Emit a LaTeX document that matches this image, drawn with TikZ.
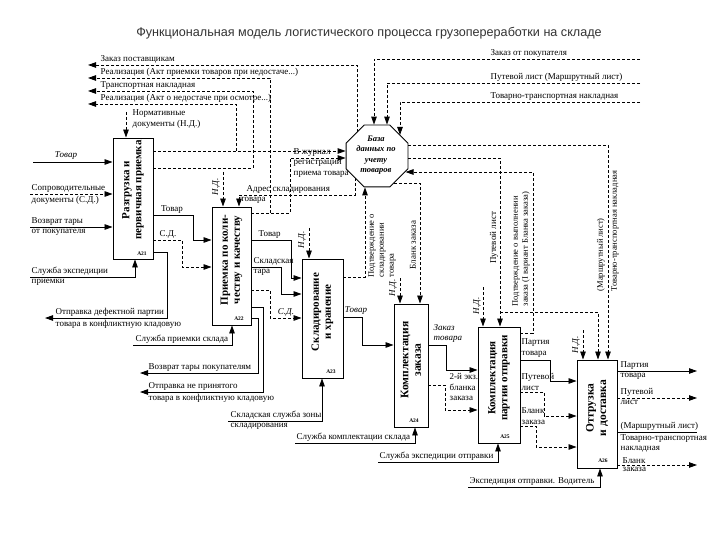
\documentclass[tikz,border=0pt]{standalone}
\usepackage{fontspec}
\setmainfont{Liberation Serif}
\newfontfamily\titlefont{Liberation Sans}
\usetikzlibrary{arrows.meta,shapes.geometric,calc}
\begin{document}
\begin{tikzpicture}[x=1pt,y=-1pt,
  box/.style={draw,line width=0.9pt,inner sep=0pt},
  blab/.style={rotate=90,font=\fontsize{11}{12}\selectfont\bfseries,align=center,inner sep=0pt},
  num/.style={font=\fontsize{5.5}{6}\selectfont\bfseries,inner sep=0pt},
  lab/.style={font=\fontsize{9}{10.5}\selectfont,align=left,inner sep=0.5pt},
  slab/.style={font=\fontsize{8.5}{10}\selectfont,align=left,inner sep=0.5pt},
  ilab/.style={font=\fontsize{9}{10.5}\selectfont\itshape,align=left,inner sep=0.5pt},
  ln/.style={line width=0.85pt},
  dsh/.style={line width=0.85pt,dash pattern=on 3pt off 2pt},
  arr/.style={-{Triangle[length=8pt,width=5.5pt]}},
]
\fill[white] (0,0) rectangle (720,540);
\useasboundingbox (0,0) rectangle (720,540);

\node[font=\titlefont\fontsize{12.6}{14}\selectfont,text=black!80] (title) at (369,33) {Функциональная модель логистического процесса грузопереработки на складе};

% ---------- boxes ----------
\node[box,minimum width=40,minimum height=121] (A21) at (133,198.5) {};
\node[box,minimum width=39,minimum height=118] (A22) at (231.5,266) {};
\node[box,minimum width=41,minimum height=119] (A23) at (322.5,318.5) {};
\node[box,minimum width=34,minimum height=123] (A24) at (411,365.5) {};
\node[box,minimum width=42,minimum height=116] (A25) at (499,385) {};
\node[box,minimum width=40,minimum height=108] (A26) at (597,414) {};
\node[draw,line width=0.9pt,regular polygon,regular polygon sides=8,minimum size=67,inner sep=0pt] (db) at (377,156) {};

\node[blab] (A21t) at (133,190) {Разгрузка и\\первичная приемка};
\node[blab] (A22t) at (231.5,260) {Приемка по коли-\\честву и качеству};
\node[blab] (A23t) at (322.5,312) {Складирование\\и хранение};
\node[blab,font=\fontsize{11.5}{12.5}\selectfont\bfseries] (A24t) at (411,360) {Комплектация\\заказа};
\node[blab] (A25t) at (499,378) {Комплектация\\партии отправки};
\node[blab,font=\fontsize{11.5}{12.5}\selectfont\bfseries] (A26t) at (597,408) {Отгрузка\\и доставка};
\node[font=\fontsize{8.5}{10.5}\selectfont\bfseries\itshape,align=center,inner sep=0pt] (dbt) at (376,155) {База\\данных по\\учету\\товаров};

\node[num] (n21) at (142,254) {A21};
\node[num] (n22) at (239,319) {A22};
\node[num] (n23) at (331,372) {A23};
\node[num] (n24) at (414,421) {A24};
\node[num] (n25) at (505,437) {A25};
\node[num] (n26) at (603,461) {A26};

% ---------- top left outputs ----------
\coordinate (L1) at (88,65);
\coordinate (L2) at (88,78);
\coordinate (L3) at (88,91);
\coordinate (L4) at (88,104);
\node[lab,anchor=south west] (tl1) at (100,64) {Заказ поставщикам};
\node[lab,anchor=south west] (tl2) at (100,77) {Реализация (Акт приемки товаров при недостаче...)};
\node[lab,anchor=south west] (tl3) at (100,90) {Транспортная накладная};
\node[lab,anchor=south west] (tl4) at (100,103) {Реализация (Акт о недостаче при осмотре...)};
\draw[dsh,arr] ($(db.center)+(-20,-23.7)$) -- (357,65) -- (L1);

% ---------- top right inputs ----------
\coordinate (R1) at (640,59);
\coordinate (R2) at (640,83);
\coordinate (R3) at (640,102);
\node[lab,anchor=south west] (tr1) at (490,58) {Заказ от покупателя};
\node[lab,anchor=south west] (tr2) at (490,82) {Путевой лист (Маршрутный лист)};
\node[lab,anchor=south west] (tr3) at (490,101) {Товарно-транспортная накладная};
\draw[dsh,arr] (R1) -- (374,59) -- (db.north -| 374,0);
\draw[dsh,arr] (R2) -- (387,83) -- (db.north -| 387,0);
\draw[dsh,arr] (R3) -- (400,102) -- ($(db.center)+(23,-21)$);

% ---------- A21 ----------
\coordinate (i1) at (33,162);
\coordinate (i2) at (30,194);
\coordinate (i3) at (30,227);
\node[ilab,anchor=south] (ti1) at (66,160) {Товар};
\draw[ln,arr] (i1) -- (i1 -| A21.west);
\node[lab,anchor=south west] (ti2a) at (31,193) {Сопроводительные};
\node[lab,anchor=north west] (ti2b) at (31,195.5) {документы (С.Д.)};
\draw[dsh,arr] (i2) -- (i2 -| A21.west);
\node[lab,anchor=south west] (ti3a) at (31,226) {Возврат тары};
\node[lab,anchor=north west] (ti3b) at (31,228.5) {от покупателя};
\draw[ln,arr] (i3) -- (i3 -| A21.west);

\coordinate (nd1) at (126,112);
\node[lab,anchor=west] (tnd1) at (132,119) {Нормативные\\документы (Н.Д.)};
\draw[dsh,arr] (nd1) -- (nd1 |- A21.north);

\coordinate (m1) at (30,277);
\node[lab,anchor=south west] (tm1a) at (31,276) {Служба экспедиции};
\node[lab,anchor=north west] (tm1b) at (31,278.5) {приемки};
\draw[ln,arr] (m1) -- (135,277) -- (135,0 |- A21.south);

\coordinate (o1) at (45,318);
\node[lab,anchor=south west] (to1a) at (55,317) {Отправка дефектной партии};
\node[lab,anchor=north west] (to1b) at (55,319.5) {товара в конфликтную кладовую};
\draw[ln,arr] (A21.east |- 0,252) -- (167,252) -- (167,318) -- (o1);

\node[lab,anchor=south] (tA21t) at (172,214) {Товар};
\draw[ln,arr] (A21.east |- 0,215) -- (193,215) -- (193,240) -- (A22.west |- 0,240);
\node[lab,anchor=south] (tA21s) at (168,239) {С.Д.};
\draw[dsh,arr] (A21.east |- 0,240) -- (182,240) -- (182,267) -- (A22.west |- 0,267);

\draw[dsh,arr] (A21.east |- 0,151) -- (db.west |- 0,151);
\draw[dsh,arr] (236,151) -- (236,104) -- (L4);
\draw[dsh,arr] (A21.east |- 0,168) -- (253,168) -- (253,91) -- (L3);

% ---------- A22 ----------
\coordinate (nd2) at (223,172);
\node[ilab,rotate=90] (tnd2) at (216,187) {Н.Д.};
\draw[dsh,arr] (nd2) -- (nd2 |- A22.north);

\node[lab,anchor=south west] (tadr1) at (246,194) {Адрес складирования};
\node[lab,anchor=north west] (tadr2) at (240,196.5) {товара};
\draw[dsh,arr] ($(db.center)+(-22,22)$) -- (355,195) -- (239,195) -- (239,0 |- A22.north);

\node[lab,anchor=south west] (tjr1) at (293,157) {В журнал};
\node[lab,anchor=north west] (tjr2) at (293,160) {регистрации\\приема товара};
\draw[dsh,arr] (A22.east |- 0,213) -- (290,213) -- (290,158) -- (db.west |- 0,158);
\draw[dsh,arr] (270,213) -- (270,78) -- (L2);

\node[lab,anchor=south west] (tA22t) at (258,239) {Товар};
\draw[ln,arr] (A22.east |- 0,240) -- (291,240) -- (291,278) -- (A23.west |- 0,278);
\node[lab,anchor=south west] (tA22k1) at (253,266) {Складская};
\node[lab,anchor=north west] (tA22k2) at (253,268.5) {тара};
\draw[ln,arr] (A22.east |- 0,267) -- (281,267) -- (281,294) -- (A23.west |- 0,294);
\node[ilab,anchor=south] (tA22s) at (286,317) {С.Д.};
\draw[dsh,arr] (A22.east |- 0,290) -- (270,290) -- (270,318) -- (A23.west |- 0,318);

\coordinate (o2) at (140,373);
\coordinate (o3) at (140,392);
\node[lab,anchor=south west] (to2) at (148,372) {Возврат тары покупателям};
\draw[ln,arr] (A22.east |- 0,318) -- (258,318) -- (258,373) -- (o2);
\node[lab,anchor=south west] (to3a) at (148,391) {Отправка не принятого};
\node[lab,anchor=north west] (to3b) at (148,393.5) {товара в конфликтную кладовую};
\draw[ln,arr] (A22.east |- 0,307) -- (263,307) -- (263,392) -- (o3);

\coordinate (m2) at (133,345);
\node[lab,anchor=south west] (tm2) at (135,344) {Служба приемки склада};
\draw[ln,arr] (m2) -- (232,345) -- (232,0 |- A22.south);

% ---------- A23 ----------
\coordinate (nd3) at (309,228);
\node[ilab,rotate=90] (tnd3) at (302,240) {Н.Д.};
\draw[dsh,arr] (nd3) -- (nd3 |- A23.north);

\node[slab,rotate=90,anchor=north west] (tpodt) at (367.5,278) {Подтверждение о\\складировании\\товара};
\draw[dsh,arr] (A23.east |- 0,277) -- (365,277) -- (db.south -| 365,0);

\node[ilab,anchor=south] (tA23t) at (356,315) {Товар};
\draw[ln,arr] (A23.east |- 0,317) -- (362,317) -- (362,345) -- (A24.west |- 0,345);

\coordinate (m3) at (228,421);
\node[lab,anchor=south west] (tm3a) at (230,420) {Складская служба зоны};
\node[lab,anchor=north west] (tm3b) at (230,422.5) {складирования};
\draw[ln,arr] (m3) -- (322,421) -- (322,0 |- A23.south);

% ---------- A24 ----------
\coordinate (nd4) at (400,278);
\node[ilab,rotate=90] (tnd4) at (393,288) {Н.Д.};
\draw[dsh,arr] (nd4) -- (nd4 |- A24.north);

\node[lab,rotate=90] (tblank) at (413,245) {Бланк заказа};
\draw[dsh,arr] ($(db.center)+(17,27)$) -- (420,183) -- (420,0 |- A24.north);

\node[ilab,anchor=south west] (tzak) at (433,343.5) {Заказ\\товара};
\draw[ln,arr] (A24.east |- 0,345) -- (446,345) -- (446,370) -- (A25.west |- 0,370);
\node[lab,anchor=north west] (t2ex) at (449,373) {2-й экз.\\бланка\\заказа};
\draw[dsh,arr] (A24.east |- 0,385) -- (445,385) -- (445,410) -- (A25.west |- 0,410);

\coordinate (m4) at (295,443);
\node[lab,anchor=south west] (tm4) at (296,442) {Служба комплектации склада};
\draw[ln,arr] (m4) -- (415,443) -- (415,0 |- A24.south);

% ---------- A25 ----------
\coordinate (nd5) at (483,287);
\node[ilab,rotate=90] (tnd5) at (477,306) {Н.Д.};
\draw[dsh,arr] (nd5) -- (nd5 |- A25.north);

\node[lab,rotate=90] (tput) at (494,238) {Путевой лист};
\draw[dsh,arr] (db.east |- 0,158) -- (500,158) -- (500,0 |- A25.north);
\draw[dsh,arr] (500,312) -- (598,312) -- (598,0 |- A26.north);

\node[slab,rotate=90,anchor=south west] (tconf) at (530.5,307) {Подтверждение о выполнении\\заказа (I вариант Бланка заказа)};
\draw[dsh,arr] (A25.east |- 0,333) -- (533,333) -- (533,172) -- ($(db.center)+(28.5,16)$);

\node[lab,anchor=south west] (tp1) at (521,358) {Партия\\товара};
\draw[ln,arr] (A25.east |- 0,360) -- (550,360) -- (550,381) -- (A26.west |- 0,381);
\node[lab,anchor=south west] (tp2) at (521,391) {Путевой\\лист};
\draw[dsh,arr] (A25.east |- 0,392) -- (544,392) -- (544,416) -- (A26.west |- 0,416);
\node[lab,anchor=south west] (tp3) at (521,425) {Бланк\\заказа};
\draw[dsh,arr] (A25.east |- 0,426) -- (536,426) -- (536,447) -- (A26.west |- 0,447);

\coordinate (m5) at (378,462);
\node[lab,anchor=south west] (tm5) at (379,461) {Служба экспедиции отправки};
\draw[ln,arr] (m5) -- (498,462) -- (498,0 |- A25.south);

% ---------- A26 ----------
\coordinate (nd6) at (583,330);
\node[ilab,rotate=90] (tnd6) at (576,345) {Н.Д.};
\draw[dsh,arr] (nd6) -- (nd6 |- A26.north);

\node[slab,rotate=90,anchor=south west] (tmar1) at (605.5,292) {(Маршрутный лист)};
\node[slab,rotate=90,anchor=north west] (tmar2) at (610.5,292) {Товарно-транспортная накладная};
\draw[dsh,arr] (db.east |- 0,145) -- (608,145) -- (608,0 |- A26.north);

\coordinate (e1) at (697,371);
\coordinate (e2) at (697,398);
\coordinate (e3) at (697,432);
\coordinate (e4) at (697,465);
\node[lab,anchor=south west] (te1a) at (620,370) {Партия};
\node[lab,anchor=north west] (te1b) at (620,372.5) {товара};
\draw[ln,arr] (A26.east |- e1) -- (e1);
\node[lab,anchor=south west] (te2a) at (620,397) {Путевой};
\node[lab,anchor=north west] (te2b) at (620,399.5) {лист};
\draw[dsh,arr] (A26.east |- e2) -- (e2);
\node[lab,anchor=south west] (te3a) at (620,431) {(Маршрутный лист)};
\node[lab,anchor=north west] (te3b) at (620,433.5) {Товарно-транспортная\\накладная};
\draw[ln] (A26.east |- e3) -- (e3);
\node[lab,anchor=south west] (te4a) at (622,464) {Бланк};
\node[lab,anchor=north west] (te4b) at (622,466.5) {заказа};
\draw[dsh,arr] (A26.east |- e4) -- (e4);

\coordinate (m6) at (468,487);
\node[lab,anchor=south west] (tm6) at (469,486) {Экспедиция отправки. Водитель};
\draw[ln,arr] (m6) -- (600,487) -- (600,0 |- A26.south);

\end{tikzpicture}
\end{document}
